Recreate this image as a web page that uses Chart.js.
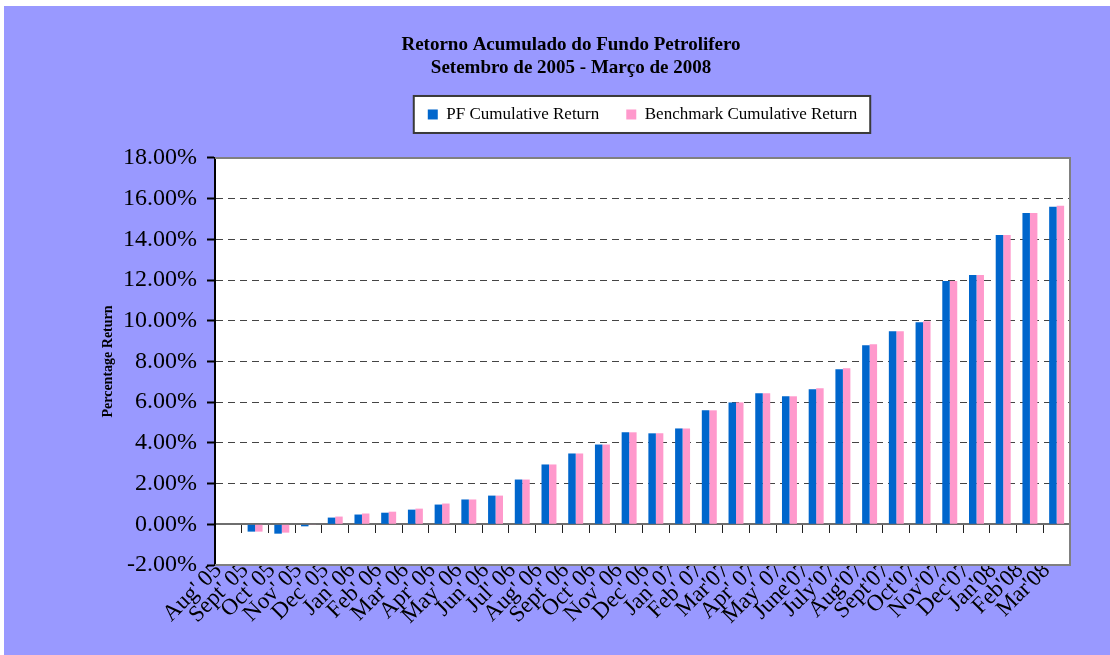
<!DOCTYPE html>
<html>
<head>
<meta charset="utf-8">
<script src="https://cdn.jsdelivr.net/npm/chart.js@4.4.0/dist/chart.umd.min.js"></script>
<style>
    html, body { margin: 0; padding: 0; background: #fff; }
</style>
</head>
<body>
<canvas id="chart" width="1110" height="655"></canvas>
<script>
// Months on the category axis
const months = ["Aug' 05", "Sept' 05", "Oct' 05", "Nov' 05", "Dec' 05", "Jan' 06", "Feb' 06", "Mar' 06",
    "Apr' 06", "May' 06", "Jun' 06", "Jul' 06", "Aug' 06", "Sept' 06", "Oct' 06", "Nov' 06", "Dec' 06",
    "Jan' 07", "Feb' 07", "Mar'07", "Apr' 07", "May' 07", "June'07", "July'07", "Aug'07", "Sept'07",
    "Oct'07", "Nov'07", "Dec'07", "Jan'08", "Feb'08", "Mar'08"];

// Cumulative returns in percent
const pfReturn = [null, -0.36, -0.46, -0.10, 0.33, 0.48, 0.57, 0.72, 0.97, 1.22, 1.41, 2.20, 2.94, 3.48,
    3.92, 4.52, 4.47, 4.71, 5.60, 5.99, 6.44, 6.29, 6.63, 7.62, 8.80, 9.49, 9.93, 11.95, 12.25, 14.22,
    15.30, 15.60];
const benchReturn = [null, -0.36, -0.41, -0.03, 0.38, 0.53, 0.62, 0.77, 1.02, 1.22, 1.41, 2.20, 2.94, 3.48,
    3.92, 4.52, 4.47, 4.71, 5.60, 5.99, 6.44, 6.29, 6.68, 7.67, 8.85, 9.49, 9.98, 11.95, 12.25, 14.22,
    15.30, 15.65];

// Value axis
const yMin = -2;
const yMax = 18;
const yStep = 2;

const serif = "'Liberation Serif', 'Times New Roman', serif";

// backgrounds, legend frame and plot border
const backdrop = {
    id: 'backdrop',
    beforeDraw(chart) {
        const ctx = chart.ctx;
        const area = chart.chartArea;
        ctx.save();
        ctx.fillStyle = '#ffffff';
        ctx.fillRect(0, 0, chart.width, chart.height);
        ctx.fillStyle = '#9999ff';
        ctx.fillRect(4, 6, chart.width - 4, chart.height - 6);
        ctx.fillStyle = '#ffffff';
        ctx.fillRect(area.left, area.top, area.right - area.left, area.bottom - area.top);

        const boxes = chart.legend.legendHitBoxes;
        if (boxes && boxes.length) {
            const first = boxes[0];
            const last = boxes[boxes.length - 1];
            const x0 = first.left - 14;
            const x1 = last.left + last.width + 13;
            const y0 = first.top - 10;
            const y1 = first.top + first.height + 10;
            ctx.fillStyle = '#ffffff';
            ctx.fillRect(x0, y0, x1 - x0, y1 - y0);
            ctx.strokeStyle = '#3a3a3a';
            ctx.lineWidth = 2;
            ctx.strokeRect(x0, y0, x1 - x0, y1 - y0);
        }
        ctx.restore();
    },
    beforeDatasetsDraw(chart) {
        const ctx = chart.ctx;
        const area = chart.chartArea;
        ctx.save();
        ctx.strokeStyle = '#808080';
        ctx.lineWidth = 2;
        ctx.beginPath();
        ctx.moveTo(area.left, area.top);
        ctx.lineTo(area.right, area.top);
        ctx.lineTo(area.right, area.bottom);
        ctx.lineTo(area.left, area.bottom);
        ctx.stroke();
        ctx.restore();
    }
};

const ctx = document.getElementById('chart').getContext('2d');
const returnsChart = new Chart(ctx, {
    type: 'bar',
    data: {
        labels: months,
        datasets: [{
            label: 'PF Cumulative Return',
            data: pfReturn,
            backgroundColor: '#0066cc',
            categoryPercentage: 0.56,
            barPercentage: 1
        }, {
            label: 'Benchmark Cumulative Return',
            data: benchReturn,
            backgroundColor: '#ff99cc',
            categoryPercentage: 0.56,
            barPercentage: 1
        }]
    },
    options: {
        responsive: false,
        animation: false,
        devicePixelRatio: 1,
        layout: {
            padding: { left: 72, right: 40, top: 6, bottom: 0 }
        },
        plugins: {
            title: {
                display: true,
                text: ['Retorno Acumulado do Fundo Petrolifero', 'Setembro de 2005 - Março de 2008'],
                color: '#000',
                font: { family: serif, size: 19, weight: 'bold', lineHeight: 1.21 },
                padding: { top: 28, bottom: -1 }
            },
            subtitle: {
                // empty spacer between the legend and the plot
                display: true,
                text: '',
                weight: 500,
                padding: 0,
                font: { size: 25, lineHeight: 1 }
            },
            legend: {
                position: 'top',
                fullSize: false,
                labels: {
                    color: '#000',
                    font: { family: serif, size: 17 },
                    boxWidth: 10,
                    boxHeight: 10,
                    padding: 27
                }
            },
            tooltip: { enabled: false }
        },
        scales: {
            x: {
                type: 'category',
                position: 'bottom',
                offset: true,
                grid: { display: false, drawTicks: false },
                border: { display: false },
                ticks: {
                    color: '#000',
                    font: { family: serif, size: 23 },
                    autoSkip: false,
                    maxRotation: 45,
                    minRotation: 45,
                    padding: -8,
                    labelOffset: -10
                },
                afterFit(scale) { scale.height = 90; }
            },
            x2: {
                type: 'category',
                position: { y: 0 },
                offset: true,
                grid: {
                    offset: true,
                    drawOnChartArea: false,
                    drawTicks: true,
                    tickLength: 8,
                    tickColor: '#222',
                    tickWidth: 1
                },
                border: { display: true, color: '#6e6e6e', width: 2 },
                ticks: { display: false }
            },
            y: {
                min: yMin,
                max: yMax,
                ticks: {
                    stepSize: yStep,
                    color: '#000',
                    font: { family: serif, size: 24 },
                    padding: 10,
                    callback: v => v.toFixed(2) + '%'
                },
                grid: {
                    color: c => (c.tick && (c.tick.value === yMin || c.tick.value === yMax || c.tick.value === 0)) ? 'rgba(0,0,0,0)' : '#444',
                    lineWidth: 1,
                    tickColor: '#000',
                    tickWidth: 2,
                    tickLength: 8
                },
                border: { display: true, color: '#000', width: 2, dash: [7, 5] },
                title: {
                    display: true,
                    text: 'Percentage Return',
                    color: '#000',
                    font: { family: serif, size: 14, weight: 'bold' },
                    padding: { top: 28, bottom: 4 }
                },
                afterFit(scale) { scale.width = 143; }
            }
        }
    },
    plugins: [backdrop]
});
</script>
</body>
</html>
